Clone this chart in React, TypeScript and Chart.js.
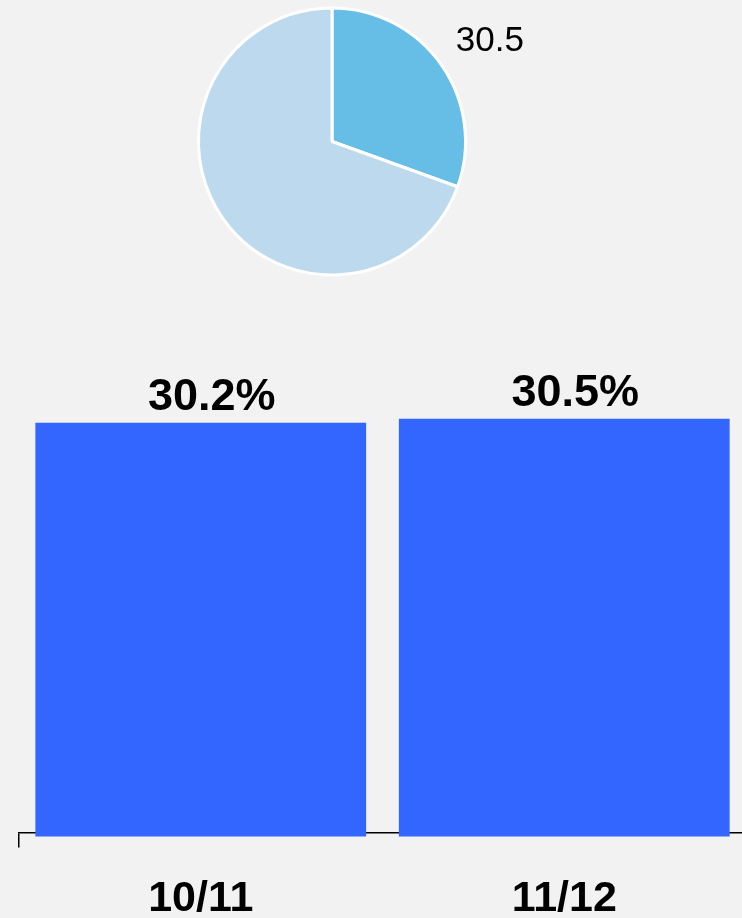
import React, { useEffect, useRef } from "react";
import { Chart, registerables } from "chart.js";

Chart.register(...registerables);

const FONT = '"Liberation Sans", Arial, Helvetica, sans-serif';

// Pie data
const pieCategories = ["11/12", "Other"];
const pieValues = [30.5, 69.5];
const pieLabelTexts = ["30.5", ""];
const pieColors = ["#66bee6", "#bdd9ee"];

// Bar data
const categories = ["10/11", "11/12"];
const barValues = [30.2, 30.5];
const barLabelTexts = ["30.2%", "30.5%"];

const pieLabelPlugin = {
  id: "pieLabel",
  afterDatasetsDraw(chart: any) {
    const meta = chart.getDatasetMeta(0);
    const ctx = chart.ctx;
    ctx.save();
    ctx.font = `35px ${FONT}`;
    ctx.fillStyle = "#000";
    ctx.textAlign = "center";
    ctx.textBaseline = "middle";
    meta.data.forEach((arc: any, i: number) => {
      const text = pieLabelTexts[i];
      if (!text) return;
      const { x, y, startAngle, endAngle, outerRadius } = arc.getProps(
        ["x", "y", "startAngle", "endAngle", "outerRadius"],
        true
      );
      const mid = (startAngle + endAngle) / 2;
      const d = outerRadius * 1.39;
      ctx.fillText(text, x + Math.cos(mid) * d + 6, y + Math.sin(mid) * d + 7);
    });
    ctx.restore();
  },
};

const barLabelPlugin = {
  id: "barLabels",
  afterDatasetsDraw(chart: any) {
    const meta = chart.getDatasetMeta(0);
    const ctx = chart.ctx;
    ctx.save();
    ctx.font = `bold 45px ${FONT}`;
    ctx.fillStyle = "#000";
    ctx.textAlign = "center";
    ctx.textBaseline = "alphabetic";
    meta.data.forEach((bar: any, i: number) => {
      ctx.fillText(barLabelTexts[i], bar.x + 11, bar.y - 13);
    });
    ctx.restore();
  },
};

export default function App() {
  const pieRef = useRef<HTMLCanvasElement>(null);
  const barRef = useRef<HTMLCanvasElement>(null);

  useEffect(() => {
    const pie = new Chart(pieRef.current as HTMLCanvasElement, {
      type: "pie",
      data: {
        labels: pieCategories,
        datasets: [
          {
            data: pieValues,
            backgroundColor: pieColors,
            borderColor: "#ffffff",
            borderWidth: 3,
            radius: 133.5,
          } as any,
        ],
      },
      options: {
        responsive: false,
        animation: false,
        layout: { padding: { left: 0, right: 78, top: 0, bottom: 17 } },
        plugins: { legend: { display: false }, tooltip: { enabled: false } },
      },
      plugins: [pieLabelPlugin],
    });

    const bar = new Chart(barRef.current as HTMLCanvasElement, {
      type: "bar",
      data: {
        labels: categories,
        datasets: [
          {
            data: barValues,
            backgroundColor: "#3366ff",
            borderWidth: 0,
            barPercentage: 0.91,
            categoryPercentage: 1,
            clip: false,
          } as any,
        ],
      },
      options: {
        responsive: false,
        animation: false,
        layout: { padding: { left: 19, right: 0, top: 44, bottom: 0 } },
        plugins: { legend: { display: false }, tooltip: { enabled: false } },
        scales: {
          x: {
            grid: {
              drawOnChartArea: false,
              tickLength: 15,
              lineWidth: 1.5,
              color: (c: any) => (c.index === 0 ? "#000000" : "rgba(0,0,0,0)"),
            },
            border: { display: true, color: "#000000", width: 1.5 },
            ticks: {
              color: "#000000",
              font: { family: FONT, size: 43, weight: "bold" },
              padding: 26,
              maxRotation: 0,
              autoSkip: false,
            },
          },
          y: { display: false, min: 0.3, max: 35.95 },
        },
      },
      plugins: [barLabelPlugin],
    });

    return () => {
      pie.destroy();
      bar.destroy();
    };
  }, []);

  return (
    <div
      style={{
        position: "absolute",
        left: 0,
        top: 0,
        width: 742,
        height: 918,
        background: "#f2f2f2",
        overflow: "hidden",
      }}
    >
      <canvas
        ref={pieRef}
        width={742}
        height={300}
        style={{ position: "absolute", left: 0, top: 0, width: 742, height: 300 }}
      />
      <canvas
        ref={barRef}
        width={746}
        height={651}
        style={{ position: "absolute", left: 0, top: 300, width: 746, height: 651 }}
      />
    </div>
  );
}
